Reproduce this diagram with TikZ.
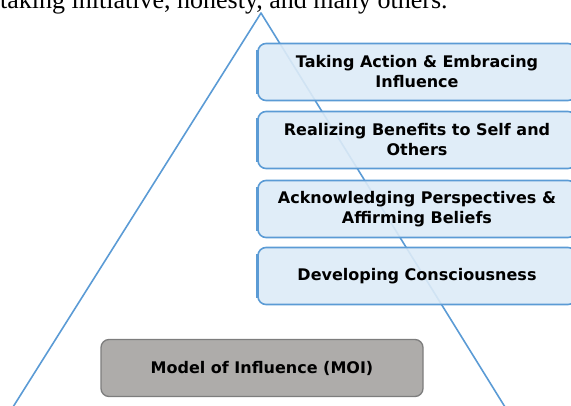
\documentclass[tikz,border=0pt]{standalone}
\usepackage{fontspec}
\setmainfont{Liberation Serif}
\setsansfont{DejaVu Sans}
\usetikzlibrary{positioning}

\definecolor{moiblue}{RGB}{91,155,213}
\definecolor{moifill}{RGB}{221,235,247}
\definecolor{moigray}{RGB}{174,172,170}
\definecolor{moiedge}{RGB}{125,125,125}

\begin{document}
\begin{tikzpicture}[x=1pt, y=-1pt,
    stage/.style={draw=moiblue, line width=1.6pt, fill=moifill, fill opacity=0.9, text opacity=1,
        rounded corners=8pt, minimum width=318pt, minimum height=57pt, align=center,
        font=\fontsize{16}{20}\selectfont\sffamily\bfseries},
    model/.style={draw=moiedge, line width=1.3pt, fill=moigray, rounded corners=8pt,
        minimum width=322pt, minimum height=57pt,
        font=\fontsize{16}{20}\selectfont\sffamily\bfseries}]
    \useasboundingbox (0, 0) rectangle (571, 405);
    \clip (0, 0) rectangle (571, 405);

    \node[anchor=base west, inner sep=0pt, font=\fontsize{26}{30}\selectfont] at (0, 8)(caption){taking initiative, honesty, and many others.};

    \coordinate (apex) at (261, 13);
    \coordinate (left) at (13, 407);
    \coordinate (right) at (505, 407);
    \draw[moiblue, line width=1.6pt, line join=round] (left) -- (apex) -- (right);

    \node[stage] at (417, 72)(s4){Taking Action \& Embracing\\Influence};
    \node[stage] at (417, 140)(s3){Realizing Benefits to Self and\\Others};
    \node[stage] at (417, 209)(s2){Acknowledging Perspectives \&\\Affirming Beliefs};
    \node[stage] at (417, 276)(s1){Developing Consciousness};
    % heavier left edges
    \foreach \s in {s1,s2,s3,s4}
        \draw[moiblue, line width=2.6pt] ([yshift=-7pt]\s.north west) -- ([yshift=7pt]\s.south west);

    \node[model] at (262, 368)(moi){Model of Influence (MOI)};
\end{tikzpicture}
\end{document}
